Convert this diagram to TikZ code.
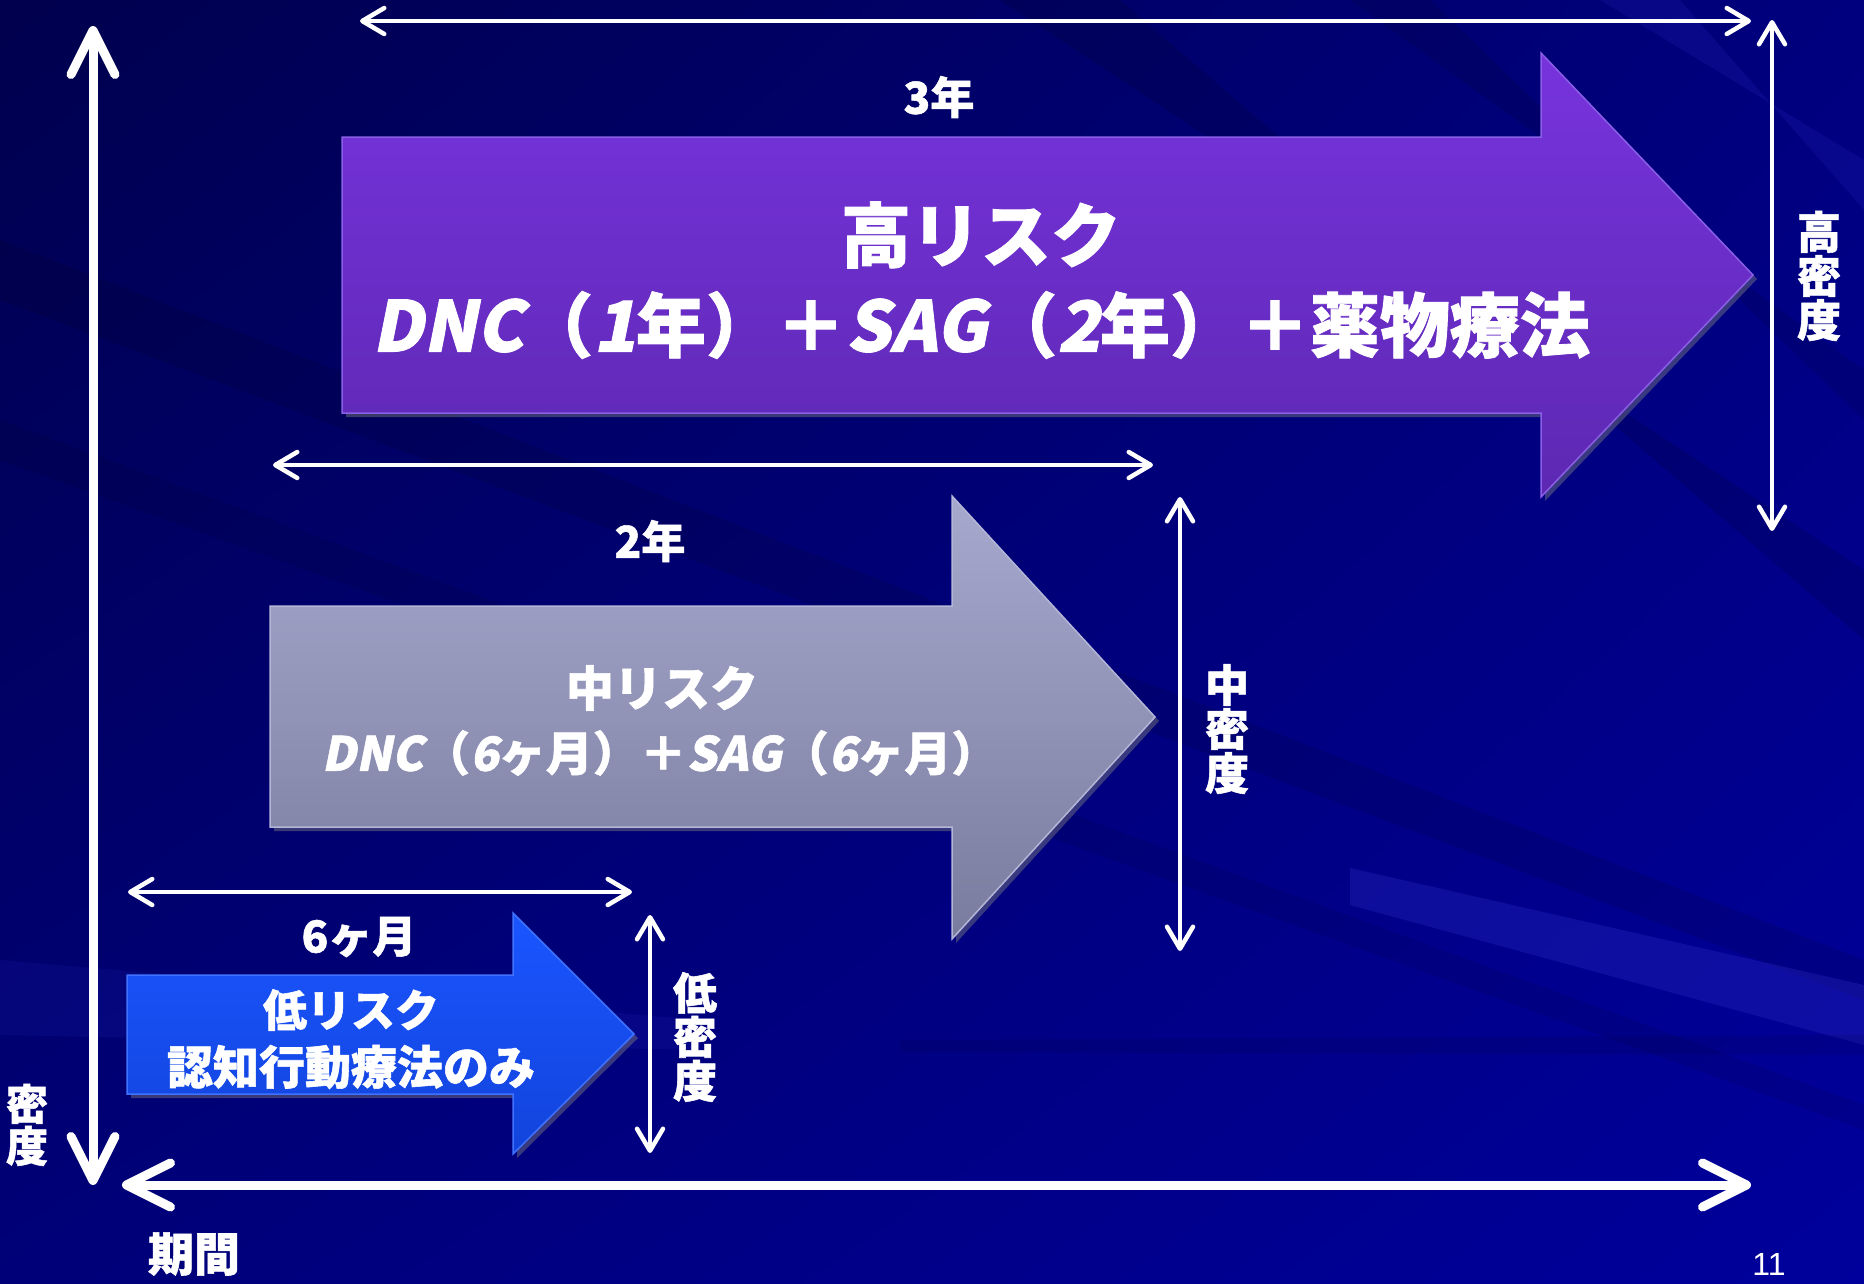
\documentclass[tikz,border=0pt]{standalone}
\usepackage{fontspec}
\setmainfont{Noto Sans CJK JP}[BoldFeatures={FakeBold=1.2}]
\newfontfamily\slfont{Noto Sans CJK JP}[FakeSlant=0.2, BoldFeatures={FakeBold=1.2}]
\newfontfamily\pgnum{Liberation Sans}
\usetikzlibrary{arrows.meta,shadows,shadings}
\definecolor{bgUL}{HTML}{00004E}
\definecolor{bgUR}{HTML}{00007E}
\definecolor{bgLL}{HTML}{000078}
\definecolor{bgLR}{HTML}{00009C}
\definecolor{purTop}{HTML}{7733DD}
\definecolor{purBot}{HTML}{5D28B2}
\definecolor{purEdge}{HTML}{8A5EE6}
\definecolor{grayTop}{HTML}{A6A8CE}
\definecolor{grayBot}{HTML}{7A7C9E}
\definecolor{grayEdge}{HTML}{B4B6D8}
\definecolor{bluTop}{HTML}{1A55FF}
\definecolor{bluBot}{HTML}{1244DC}
\definecolor{bluEdge}{HTML}{3F72FF}
\definecolor{streakL}{HTML}{2A2AC0}
\tikzset{
  lbl/.style={text=white, inner sep=0pt, align=center},
  dimline/.style={draw=white, line width=4.5pt, line cap=round,
    {Straight Barb[length=22pt,width=26pt,round]}-{Straight Barb[length=22pt,width=26pt,round]}},
  axisline/.style={draw=white, line width=9pt, line cap=round,
    {Straight Barb[length=44pt,width=44pt,round]}-{Straight Barb[length=44pt,width=44pt,round]}},
  bigarrow/.style={line width=1.5pt, line join=miter,
    drop shadow={opacity=0.45, shadow xshift=4pt, shadow yshift=-4pt}},
}
\newcommand{\fs}[1]{\fontsize{#1}{#1}\selectfont\bfseries}
\begin{document}
\begin{tikzpicture}[x=1pt,y=-1pt]
% ---------- background ----------
\useasboundingbox (0,0) rectangle (1864,1283);
\shade[upper left=bgUL, upper right=bgUR, lower left=bgLL, lower right=bgLR]
  (0,0) rectangle (1864,1283);
\begin{scope}
\clip (0,0) rectangle (1864,1283);
\fill[black, fill opacity=0.10] (0,240) -- (0,300) -- (1864,1000) -- (1864,960) -- cycle;
\fill[black, fill opacity=0.08] (0,420) -- (0,460) -- (1864,1130) -- (1864,1105) -- cycle;
\fill[black, fill opacity=0.12] (1000,0) -- (1120,0) -- (1864,640) -- (1864,570) -- cycle;
\fill[black, fill opacity=0.10] (1350,0) -- (1430,0) -- (1864,420) -- (1864,370) -- cycle;
\fill[streakL, fill opacity=0.20] (1600,0) -- (1680,0) -- (1864,210) -- (1864,160) -- cycle;
\fill[streakL, fill opacity=0.35] (1350,868) -- (1864,985) -- (1864,1045) -- (1350,905) -- cycle;
\fill[streakL, fill opacity=0.15] (0,960) -- (700,1020) -- (700,1050) -- (0,1035) -- cycle;
\fill[black, fill opacity=0.08] (900,1040) -- (1864,1035) -- (1864,1055) -- (900,1052) -- cycle;
\end{scope}

% ---------- big arrows ----------
\shade[bigarrow, draw=purEdge, top color=purTop, bottom color=purBot]
  (342,137) -- (1541,137) -- (1541,53) -- (1753,275) -- (1541,497) -- (1541,413) -- (342,413) -- cycle;
\shade[bigarrow, draw=grayEdge, top color=grayTop, bottom color=grayBot]
  (270,606) -- (952,606) -- (952,496) -- (1155,717) -- (952,939) -- (952,827) -- (270,827) -- cycle;
\shade[bigarrow, draw=bluEdge, top color=bluTop, bottom color=bluBot]
  (127,975) -- (513,975) -- (513,913) -- (634,1034) -- (513,1154) -- (513,1094) -- (127,1094) -- cycle;

% ---------- texts in arrows ----------
\node[lbl, font=\fs{70}] (hiT) at (981,235) {高リスク};
\node[lbl, font=\fs{70}] (hiD) at (981,325)
  {{\slfont\bfseries DNC}（{\slfont\bfseries 1}年）＋{\slfont\bfseries SAG}（{\slfont\bfseries 2}年）＋薬物療法};
\node[lbl, font=\fs{48}] (miT) at (662,688) {中リスク};
\node[lbl, font=\fs{47}] (miD) at (660,753)
  {{\slfont\bfseries DNC}（{\slfont\bfseries 6}ヶ月）＋{\slfont\bfseries SAG}（{\slfont\bfseries 6}ヶ月）};
\node[lbl, font=\fs{44}] (loT) at (351,1010) {低リスク};
\node[lbl, font=\fs{46}] (loD) at (351,1067) {認知行動療法のみ};

% ---------- duration labels ----------
\node[lbl, font=\fs{44}] (d3) at (939,97) {3年};
\node[lbl, font=\fs{44}] (d2) at (650,541) {2年};
\node[lbl, font=\fs{44}] (d6) at (359,937) {6ヶ月};

% ---------- density labels ----------
\node[lbl, font=\fs{44}] (hiDen) at (1819,276) {高\\密\\度};
\node[lbl, font=\fs{44}] (miDen) at (1227,729) {中\\密\\度};
\node[lbl, font=\fs{44}] (loDen) at (695,1037) {低\\密\\度};
\node[lbl, font=\fs{42}] (yLab) at (27,1125) {密\\度};
\node[lbl, font=\fs{46}] (xLab) at (194,1254) {期間};
\node[lbl, font=\pgnum\fontsize{32}{32}\selectfont] (pg) at (1769,1264) {11};

% ---------- dimension arrows ----------
\coordinate (t3a) at (360,21);   \coordinate (t3b) at (1751,21);
\coordinate (v3a) at (1772,20);  \coordinate (v3b) at (1772,531);
\coordinate (t2a) at (273,465);  \coordinate (t2b) at (1153,465);
\coordinate (v2a) at (1180,497); \coordinate (v2b) at (1180,951);
\coordinate (t1a) at (128,892);  \coordinate (t1b) at (632,892);
\coordinate (v1a) at (650,915);  \coordinate (v1b) at (650,1153);
\draw[dimline] (t3a) -- (t3b);
\draw[dimline] (v3a) -- (v3b);
\draw[dimline] (t2a) -- (t2b);
\draw[dimline] (v2a) -- (v2b);
\draw[dimline] (t1a) -- (t1b);
\draw[dimline] (v1a) -- (v1b);

% ---------- axes ----------
\coordinate (yTop) at (93,26);  \coordinate (yBot) at (93,1185);
\coordinate (xL) at (122,1185); \coordinate (xR) at (1751,1185);
\draw[axisline] (yTop) -- (yBot);
\draw[axisline] (xL) -- (xR);
\end{tikzpicture}
\end{document}
